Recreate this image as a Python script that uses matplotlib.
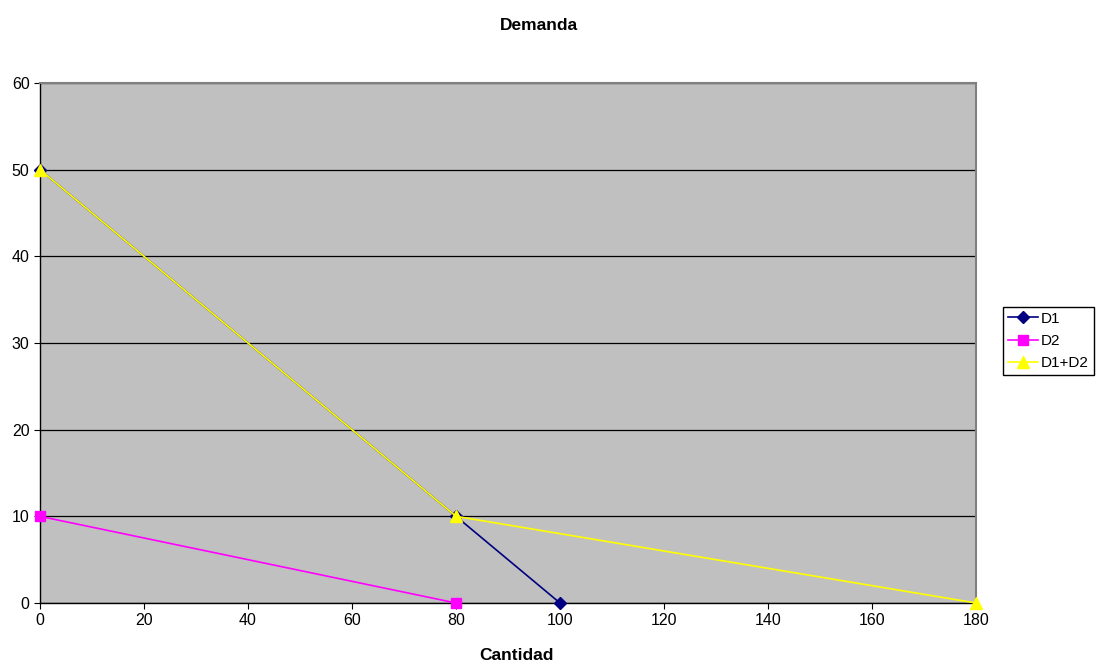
import matplotlib
matplotlib.use("Agg")
import matplotlib.pyplot as plt

plt.rcParams['font.family'] = ['Liberation Sans', 'DejaVu Sans']

d1_x = [0, 80, 100]
d1_y = [50, 10, 0]
d2_x = [0, 80]
d2_y = [10, 0]
d12_x = [0, 80, 180]
d12_y = [50, 10, 0]
xticks = [0, 20, 40, 60, 80, 100, 120, 140, 160, 180]
yticks = [0, 10, 20, 30, 40, 50, 60]

W, H = 1096, 663
fig = plt.figure(figsize=(W/100, H/100), dpi=100)
ax = fig.add_axes([40/W, 60/H, 936/W, 520/H])
ax.set_facecolor('#C0C0C0')

ax.plot(d1_x, d1_y, color='#000080', marker='D', markersize=6, linewidth=1.2, label='D1', clip_on=False, zorder=3)
ax.plot(d2_x, d2_y, color='#FF00FF', marker='s', markersize=6.5, linewidth=1.2, label='D2', clip_on=False, zorder=3)
ax.plot(d12_x, d12_y, color='#FFFF00', marker='^', markersize=8, linewidth=1.2, label='D1+D2', clip_on=False, zorder=4)

ax.set_xlim(0, 180)
ax.set_ylim(0, 60)
ax.set_xticks(xticks)
ax.set_yticks(yticks)
ax.yaxis.grid(True, color='black', linewidth=0.9)
ax.set_axisbelow(True)
ax.tick_params(axis='both', labelsize=11.5, direction='out', length=4, color='black')
for s in ['left', 'bottom']:
    ax.spines[s].set_color('black')
    ax.spines[s].set_linewidth(1.0)
for s in ['top', 'right']:
    ax.spines[s].set_color('#808080')
    ax.spines[s].set_linewidth(1.5)

fig.text(539/W, 1 - 26/H, 'Demanda', ha='center', va='center', fontsize=12.5, fontweight='bold')
fig.text(516/W, 1 - 655/H, 'Cantidad', ha='center', va='center', fontsize=12.5, fontweight='bold')

leg = fig.legend(loc='upper left', bbox_to_anchor=(1003/W, 1 - 307/H), fontsize=11,
                 frameon=True, fancybox=False, edgecolor='black', framealpha=1,
                 borderpad=0.3, labelspacing=0.55, handlelength=2.0, handletextpad=0.2, borderaxespad=0)
leg.get_frame().set_linewidth(1.0)

fig.savefig('out.png', dpi=100)
